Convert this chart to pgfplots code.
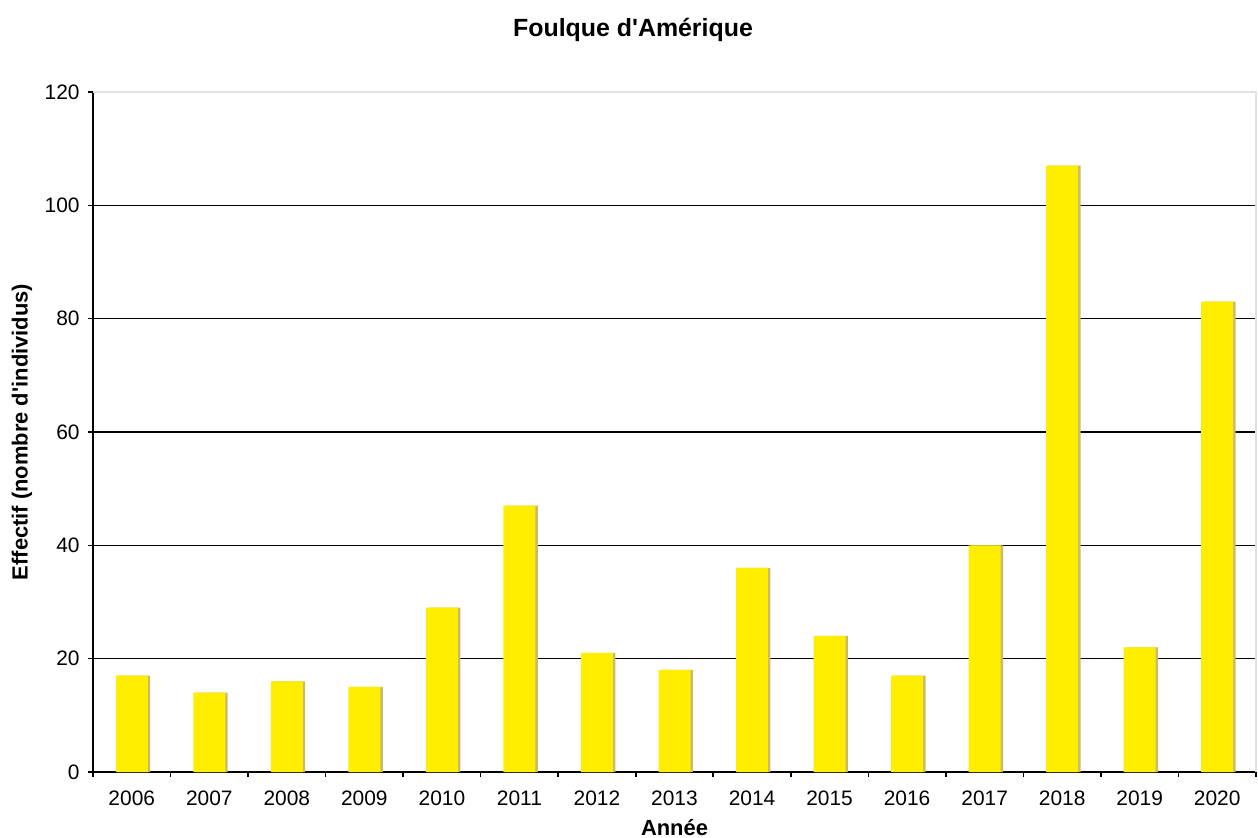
\documentclass[border=0pt]{standalone}
\usepackage{pgfplots}
\pgfplotsset{compat=1.18}
\usepackage{fontspec}
\setmainfont{Liberation Sans}
\definecolor{baryellow}{RGB}{255,238,0}
\definecolor{barshadow}{RGB}{200,185,110}
\definecolor{frameGray}{RGB}{225,225,225}
\begin{document}
\begin{tikzpicture}
\pgfplotstableread{
x year n
0 2006 17
1 2007 14
2 2008 16
3 2009 15
4 2010 29
5 2011 47
6 2012 21
7 2013 18
8 2014 36
9 2015 24
10 2016 17
11 2017 40
12 2018 107
13 2019 22
14 2020 83
}\datatable
\path[use as bounding box] (-46.5bp,-33bp) rectangle (582.5bp,386bp);
\begin{axis}[
  scale only axis,
  width=581.5bp, height=340bp,
  xmin=-0.5, xmax=14.5,
  ymin=0, ymax=120,
  axis x line*=bottom,
  axis y line*=left,
  axis line style={black, line width=0.8pt},
  ybar,
  bar width=16bp,
  xtick=data,
  xticklabels={2006,2007,2008,2009,2010,2011,2012,2013,2014,2015,2016,2017,2018,2019,2020},
  minor xtick={-0.5,0.5,...,14.5},
  major x tick style={draw=none},
  minor x tick style={black, line width=0.8pt},
  minor tick length=2.5bp,
  ytick={0,20,40,60,80,100,120},
  major y tick style={black, line width=0.8pt},
  major tick length=2.5bp,
  tick align=outside,
  extra y ticks={20,40,60,80,100},
  extra y tick labels={},
  extra y tick style={grid=major, major tick length=0pt},
  grid style={black, line width=0.8pt},
  tick label style={font=\fontsize{10.5}{12}\selectfont},
  /pgf/number format/assume math mode=true,
  xticklabel style={anchor=base, yshift=-14bp},
  yticklabel style={anchor=east, inner sep=0pt, xshift=-4bp},
  title={Foulque d\textquotesingle Amérique},
  title style={font=\fontsize{12.5}{14}\selectfont\bfseries, at={(rel axis cs:0.5,1)}, anchor=center, yshift=25bp, xshift=-20.75bp},
  xlabel={Année},
  xlabel style={font=\fontsize{11}{13}\selectfont\bfseries, at={(rel axis cs:0.5,0)}, anchor=center, yshift=-28bp},
  ylabel={Effectif (nombre d\textquotesingle individus)},
  ylabel style={font=\fontsize{11}{13}\selectfont\bfseries, at={(rel axis cs:0,0.5)}, anchor=center, yshift=35.5bp},
  clip=false,
]
\addplot[fill=barshadow, draw=none, bar shift=1.2bp] table[x=x, y=n] {\datatable};
\addplot[fill=baryellow, draw=none, bar shift=0pt] table[x=x, y=n] {\datatable};
\draw[frameGray, line width=1pt] (rel axis cs:0,1) -- (rel axis cs:1,1) -- (rel axis cs:1,0);
\end{axis}
\end{tikzpicture}
\end{document}
